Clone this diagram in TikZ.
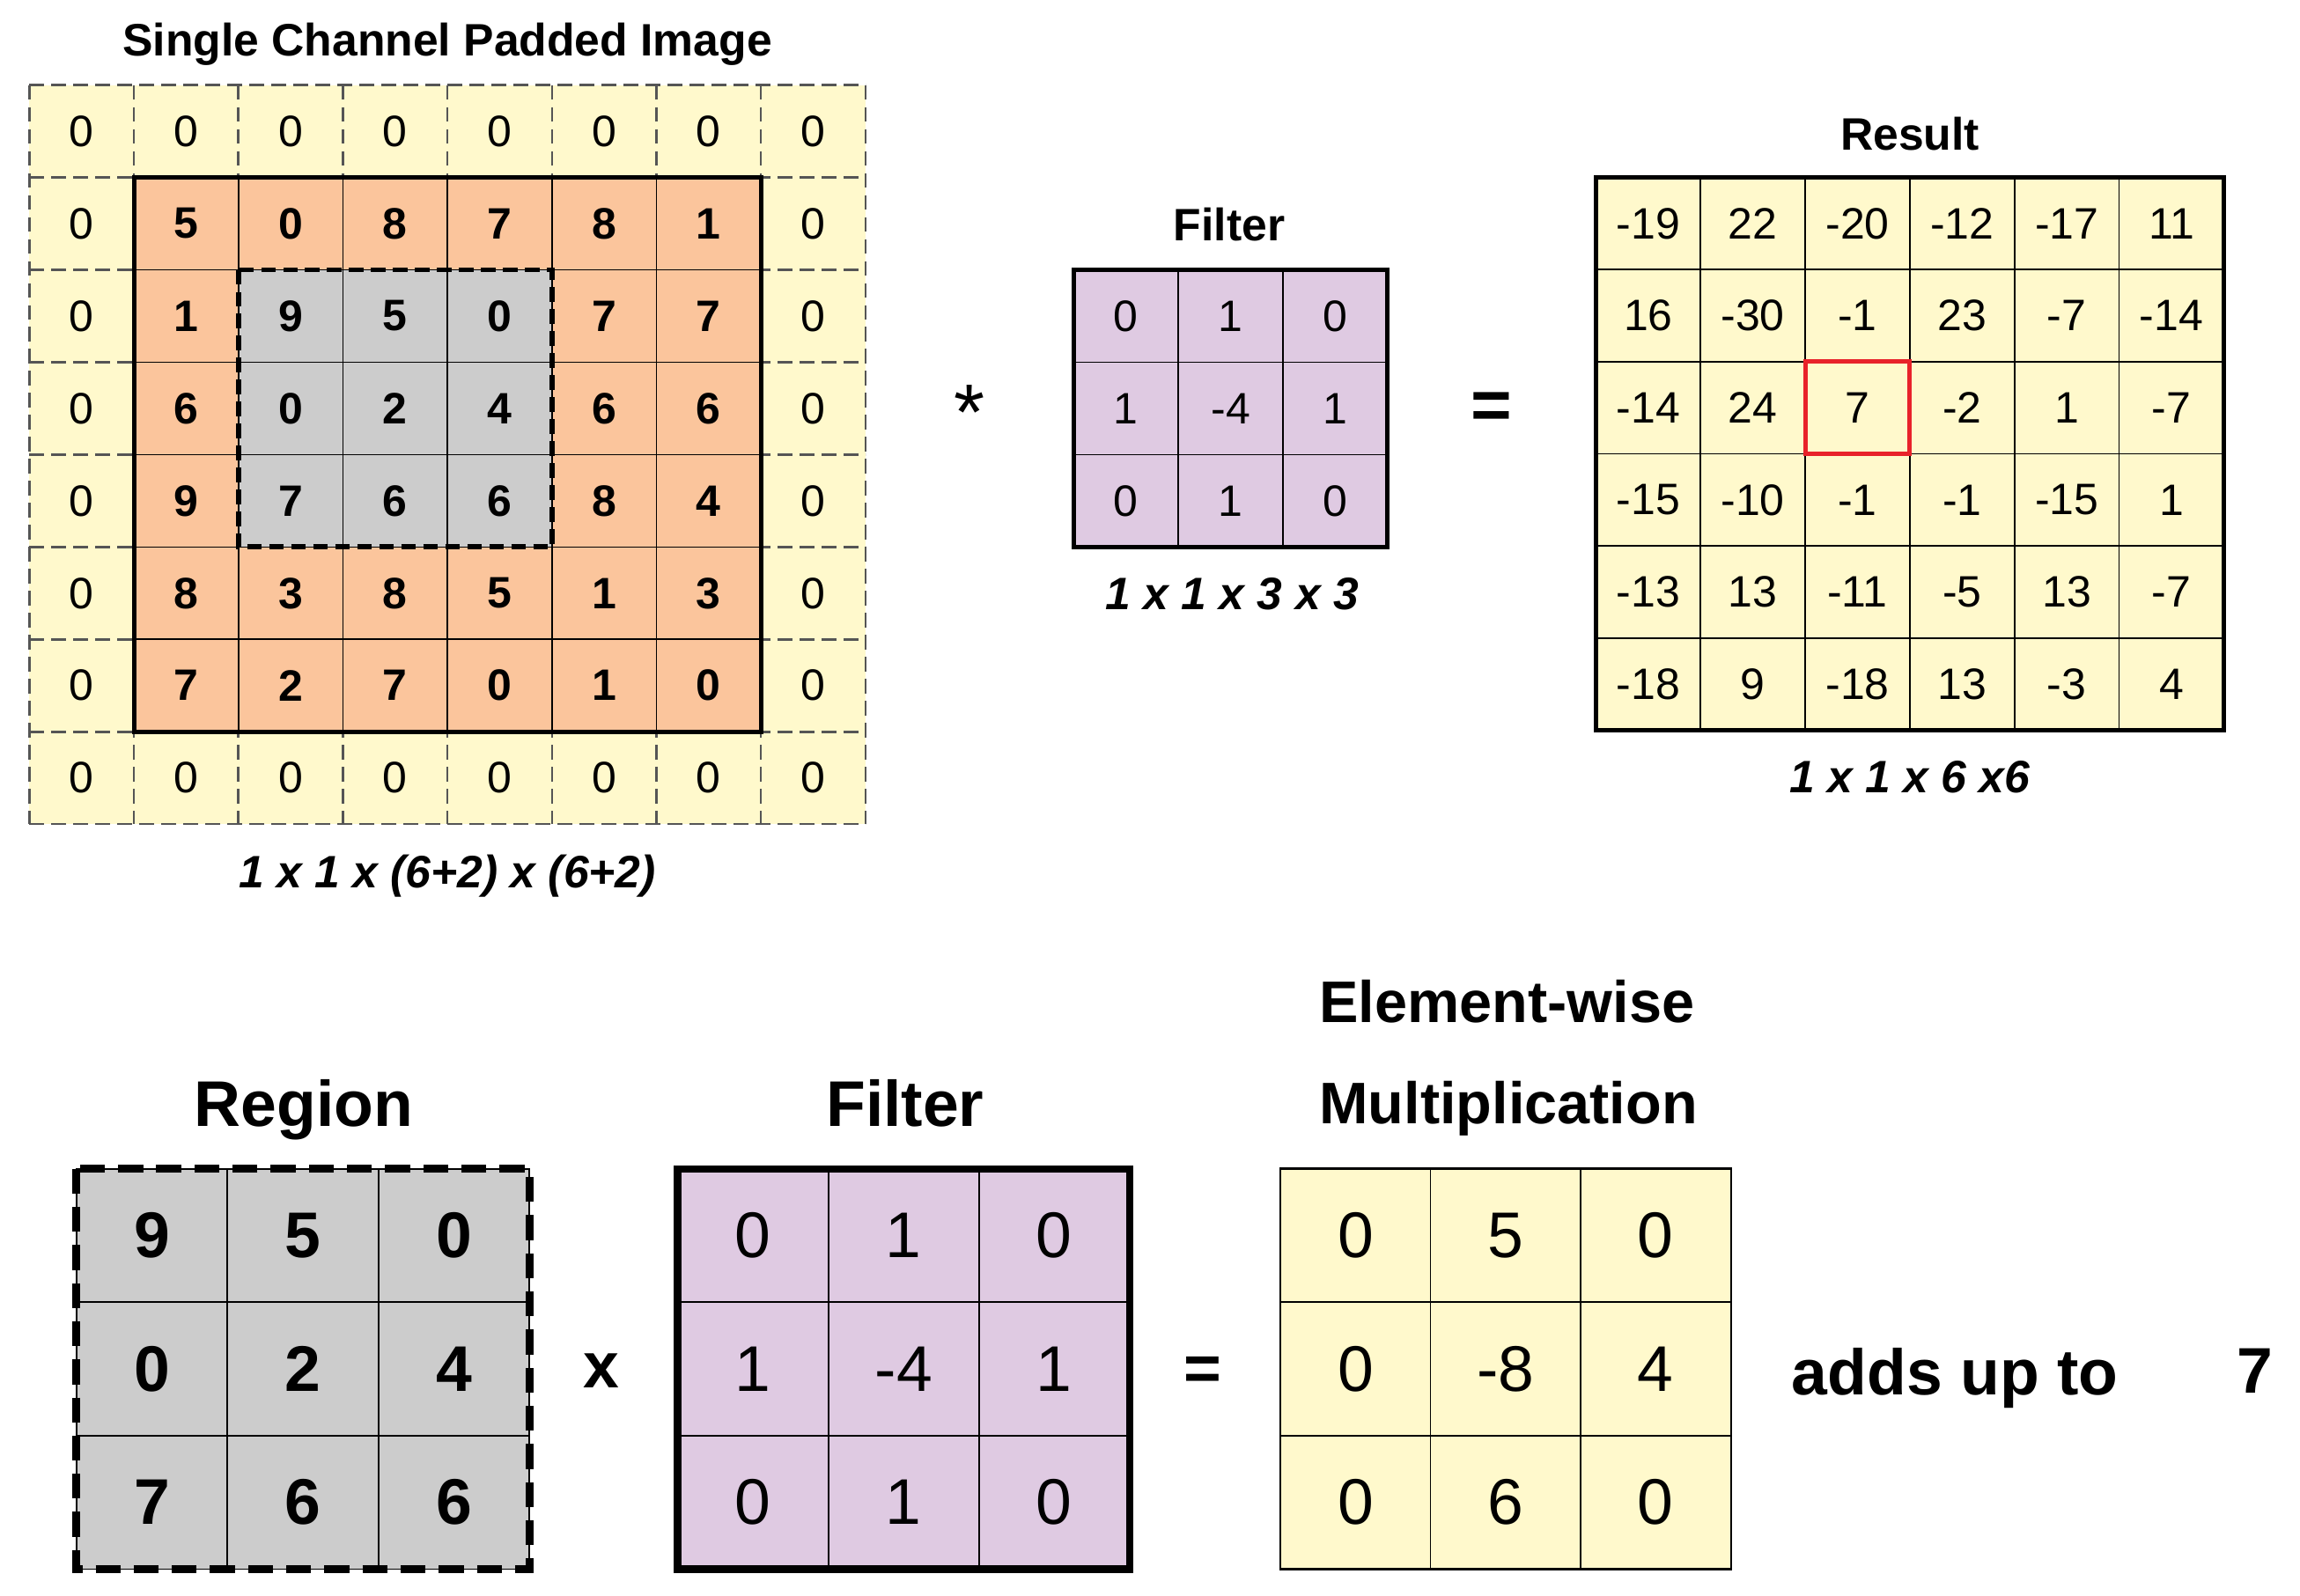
\documentclass[tikz,border=0pt]{standalone}
\usepackage{fontspec}
\setmainfont{Liberation Sans}
\definecolor{padyellow}{HTML}{FFF9CC}
\definecolor{imgorange}{HTML}{FBC59C}
\definecolor{regiongray}{HTML}{CCCCCC}
\definecolor{filterpurple}{HTML}{DFCAE2}
\definecolor{markred}{HTML}{E8222A}
\definecolor{dashgray}{HTML}{555555}
\newcommand\gridfont{\fontsize{30}{36}\selectfont}
\newcommand\headfont{\fontsize{31}{37}\selectfont\bfseries}
\newcommand\panelfont{\fontsize{44}{52}\selectfont}
\tikzset{
  smallcell/.style={minimum width=71.25pt, minimum height=63pt, inner sep=0pt, outer sep=0pt, font=\gridfont},
  bigcell/.style={minimum width=102.7pt, minimum height=91pt, inner sep=0pt, outer sep=0pt, font=\panelfont},
  thinline/.style={draw=black, line width=1pt},
  paddash/.style={draw=dashgray, line width=1.5pt, dash pattern=on 10pt off 5pt},
  regionline/.style={line width=3.5pt, dash pattern=on 10pt off 5pt},
  headtext/.style={font=\headfont, text depth=0pt},
  dimlabel/.style={font=\headfont\itshape, text depth=0pt},
  paneltitle/.style={font=\panelfont\bfseries, text depth=0pt},
}
\begin{document}
\begin{tikzpicture}[x=1pt,y=-1pt]
    \useasboundingbox (0,0) rectangle (1568,1088);
    % padded image
    \node[headtext] (padtitle) at (305,27) {Single Channel Padded Image};
    \foreach \r in {0,...,7}
      \foreach \c in {0,...,7} {
        \pgfmathtruncatemacro\edge{or(or(\r==0,\r==7),or(\c==0,\c==7))}
        \ifnum\edge=1
          \node[smallcell, fill=padyellow] (pad-\r-\c) at ({20+71.25*(\c+0.5)},{58+63*(\r+0.5)}) {0};
        \fi
      }
    \foreach \k in {0,...,8} {
      \draw[paddash] (20,{58+63*\k}) -- (590,{58+63*\k});
      \draw[paddash] ({20+71.25*\k},58) -- ({20+71.25*\k},562);
    }
    \foreach \row [count=\r] in {{5,0,8,7,8,1},{1,9,5,0,7,7},{6,0,2,4,6,6},{9,7,6,6,8,4},{8,3,8,5,1,3},{7,2,7,0,1,0}}
      \foreach \v [count=\c] in \row {
        \pgfmathtruncatemacro\inreg{and(and(\r>1,\r<5),and(\c>1,\c<5))}
        \ifnum\inreg=1 \colorlet{cellbg}{regiongray}\else \colorlet{cellbg}{imgorange}\fi
        \node[smallcell, thinline, fill=cellbg, font=\gridfont\bfseries] (img-\r-\c) at ({20+71.25*(\c+0.5)},{58+63*(\r+0.5)}) {\v};
      }
    \draw[line width=3pt] (img-1-1.north west) rectangle (img-6-6.south east);
    \draw[regionline] (img-2-2.north west) rectangle (img-4-4.south east);
    \node[dimlabel] (padsize) at (305,594) {1 x 1 x (6+2) x (6+2)};

    \node[font=\fontsize{54}{60}\selectfont] (convsign) at (661,281) {*};

    % filter
    \node[headtext] (filtertitle) at (838,153) {Filter};
    \foreach \row [count=\r] in {{0,1,0},{1,-4,1},{0,1,0}}
      \foreach \v [count=\c] in \row
        \node[smallcell, thinline, fill=filterpurple] (flt-\r-\c) at ({732+71.33*(\c-0.5)},{184+63*(\r-0.5)}) {\v};
    \draw[line width=3pt] (flt-1-1.north west) rectangle (flt-3-3.south east);
    \node[dimlabel] (filtersize) at (840,405) {1 x 1 x 3 x 3};

    \node[font=\fontsize{48}{56}\selectfont\bfseries] (eqtop) at (1017,280) {=};

    % result
    \node[headtext] (restitle) at (1302,91) {Result};
    \foreach \row [count=\r] in {{-19,22,-20,-12,-17,11},{16,-30,-1,23,-7,-14},{-14,24,7,-2,1,-7},{-15,-10,-1,-1,-15,1},{-13,13,-11,-5,13,-7},{-18,9,-18,13,-3,4}}
      \foreach \v [count=\c] in \row
        \node[smallcell, minimum width=71.33pt, minimum height=62.83pt, thinline, fill=padyellow] (res-\r-\c) at ({1088+71.33*(\c-0.5)},{121+62.83*(\r-0.5)}) {\v};
    \draw[line width=3pt] (res-1-1.north west) rectangle (res-6-6.south east);
    \draw[markred, line width=3pt] (res-3-3.north west) rectangle (res-3-3.south east);
    \node[dimlabel] (ressize) at (1302,530) {1 x 1 x 6 x6};

    % region
    \node[paneltitle] (regtitle) at (207,752) {Region};
    \foreach \row [count=\r] in {{9,5,0},{0,2,4},{7,6,6}}
      \foreach \v [count=\c] in \row
        \node[bigcell, thinline, fill=regiongray, font=\panelfont\bfseries] (reg-\r-\c) at ({52+103*(\c-0.5)},{797+91*(\r-0.5)}) {\v};
    \draw[line width=5.5pt, dash pattern=on 17pt off 9pt] (reg-1-1.north west) rectangle (reg-3-3.south east);

    \node[font=\panelfont\bfseries] (timessign) at (410,935) {x};

    % filter again
    \node[paneltitle] (fltbigtitle) at (617,752) {Filter};
    \foreach \row [count=\r] in {{0,1,0},{1,-4,1},{0,1,0}}
      \foreach \v [count=\c] in \row
        \node[bigcell, thinline, fill=filterpurple] (fb-\r-\c) at ({462+102.7*(\c-0.5)},{797+91*(\r-0.5)}) {\v};
    \draw[line width=5pt] (fb-1-1.north west) rectangle (fb-3-3.south east);

    \node[font=\panelfont\bfseries] (eqbottom) at (820,937) {=};

    % element-wise product
    \node[paneltitle, font=\fontsize{40}{48}\selectfont\bfseries, anchor=west] (prodtitle) at (896,683) {Element-wise};
    \node[paneltitle, font=\fontsize{40}{48}\selectfont\bfseries, anchor=west] (prodtitleb) at (896,752) {Multiplication};
    \foreach \row [count=\r] in {{0,5,0},{0,-8,4},{0,6,0}}
      \foreach \v [count=\c] in \row
        \node[bigcell, thinline, fill=padyellow] (prod-\r-\c) at ({873+102.3*(\c-0.5)},{797+91*(\r-0.5)}) {\v};
    \draw[line width=1.5pt] (prod-1-1.north west) rectangle (prod-3-3.south east);

    \node[paneltitle, anchor=west] (sumtext) at (1218,935) {adds up to};
    \node[paneltitle] (sumvalue) at (1537,935) {7};
\end{tikzpicture}
\end{document}
